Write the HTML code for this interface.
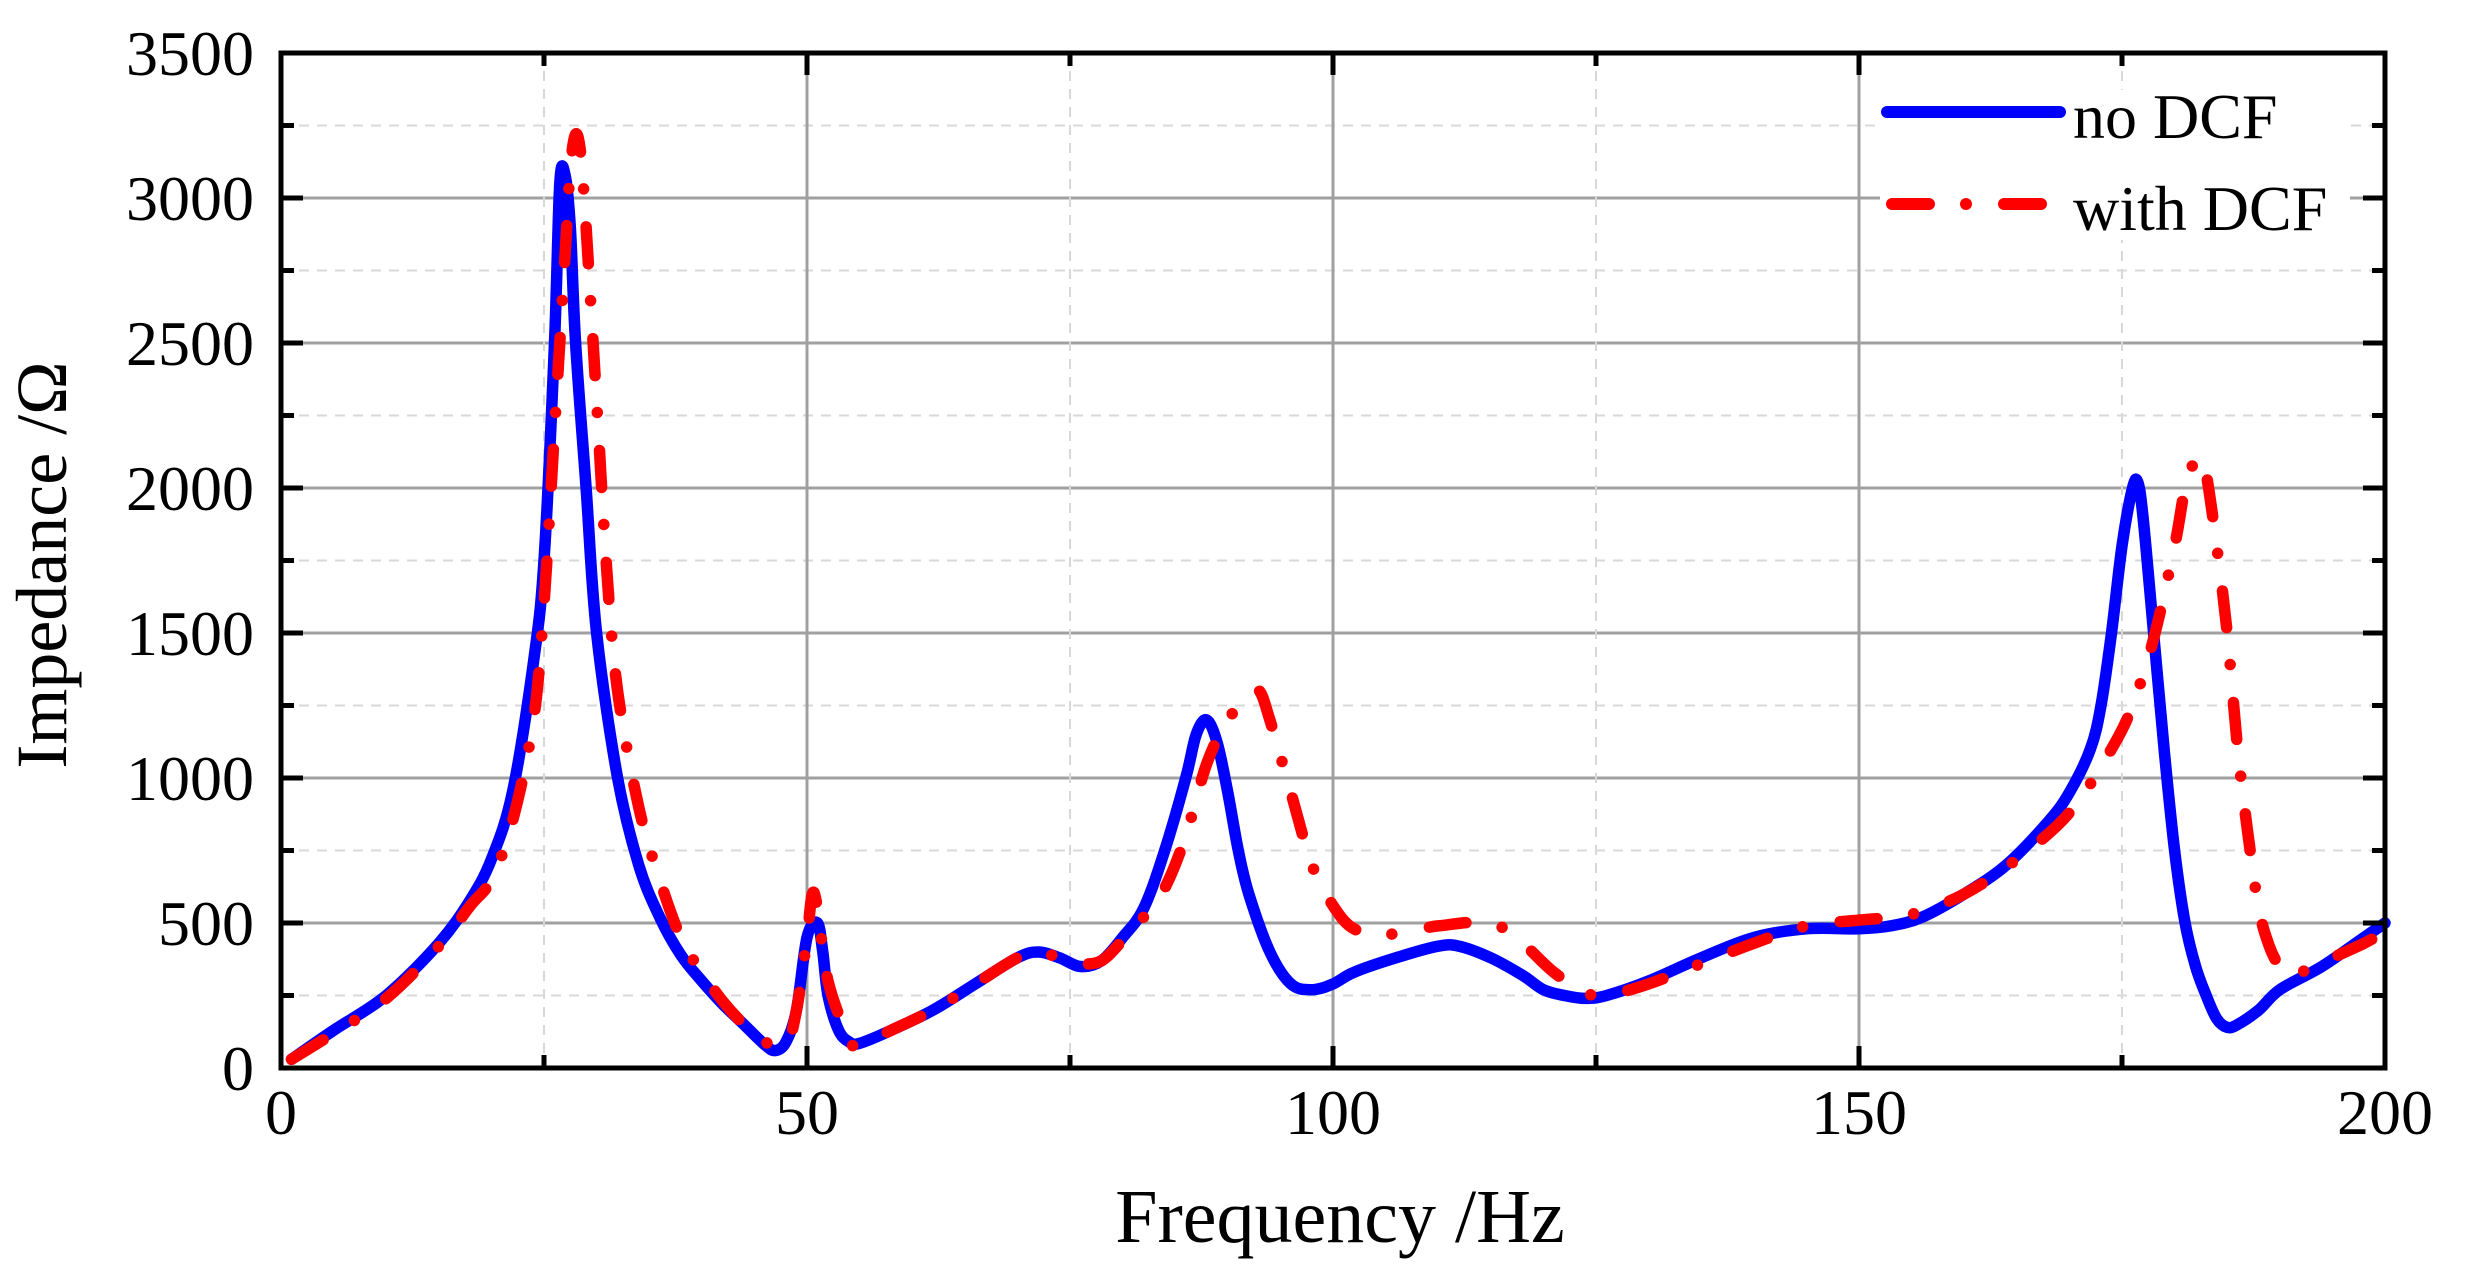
<!DOCTYPE html>
<html><head><meta charset="utf-8"><style>
html,body{margin:0;padding:0;background:#fff;}
svg{display:block;}
text{font-family:"Liberation Serif",serif;fill:#000;}
</style></head><body>
<svg id="s" width="2467" height="1282" viewBox="0 0 2467 1282" xmlns="http://www.w3.org/2000/svg">
<g id="grid"></g>
<path id="blue" fill="none" stroke="#0000ff" stroke-width="11.5" stroke-linejoin="round" stroke-linecap="round"/>
<path id="red" fill="none" stroke="#ff0000" stroke-width="11.5" stroke-linejoin="round" stroke-linecap="round" stroke-dasharray="37 37 0 38"/>
<rect x="281" y="53" width="2104" height="1015" fill="none" stroke="#000" stroke-width="5"/>
<g id="ticks"></g>
<g font-size="64" text-anchor="end" id="ylab"></g>
<g font-size="64" text-anchor="middle" id="xlab"></g>
<text x="1340" y="1242" font-size="76" text-anchor="middle">Frequency /Hz</text>
<text transform="translate(66,565) rotate(-90)" font-size="72" text-anchor="middle">Impedance /Ω</text>
<rect x="1880" y="90" width="470" height="150" fill="#fff"/>
<line x1="1887" y1="112" x2="2060" y2="112" stroke="#0000ff" stroke-width="12" stroke-linecap="round"/>
<line x1="1892" y1="204" x2="2043" y2="204" stroke="#ff0000" stroke-width="12" stroke-linecap="round" stroke-dasharray="37 37 0 38"/>
<text x="2073" y="138" font-size="64">no DCF</text>
<text x="2073" y="230" font-size="64">with DCF</text>
</svg>
<script>
var L=281,R=2385,T=53,B=1068;
function X(f){return L+(R-L)*f/200;}
function Y(v){return B-(B-T)*v/3500;}
var NS="http://www.w3.org/2000/svg";
function el(p,n,a){var e=document.createElementNS(NS,n);for(var k in a)e.setAttribute(k,a[k]);p.appendChild(e);return e;}
var g=document.getElementById('grid'),tk=document.getElementById('ticks');
for(var v=250;v<3500;v+=250){var maj=v%500==0;
 el(g,'line',{x1:L,x2:R,y1:Y(v),y2:Y(v),stroke:maj?'#a0a0a0':'#d8d8d8','stroke-width':maj?3:2,'stroke-dasharray':maj?'':'10 8'});
 el(tk,'line',{x1:L,x2:L+(maj?22:13),y1:Y(v),y2:Y(v),stroke:'#000','stroke-width':5});
 el(tk,'line',{x1:R,x2:R-(maj?22:13),y1:Y(v),y2:Y(v),stroke:'#000','stroke-width':5});}
for(var f=25;f<200;f+=25){var maj=f%50==0;
 el(g,'line',{x1:X(f),x2:X(f),y1:T,y2:B,stroke:maj?'#a0a0a0':'#d8d8d8','stroke-width':maj?3:2,'stroke-dasharray':maj?'':'10 8'});
 el(tk,'line',{x1:X(f),x2:X(f),y1:B,y2:B-(maj?22:13),stroke:'#000','stroke-width':5});
 el(tk,'line',{x1:X(f),x2:X(f),y1:T,y2:T+(maj?22:13),stroke:'#000','stroke-width':5});}
var yl=document.getElementById('ylab');
for(var v=0;v<=3500;v+=500){var t=el(yl,'text',{x:254,y:Y(v)+22});t.textContent=v;}
var xl=document.getElementById('xlab');
for(var f=0;f<=200;f+=50){var t=el(xl,'text',{x:X(f),y:1134});t.textContent=f;}
var blue=[[1,30],[5,130],[10,250],[15,430],[18,580],[20,720],[22,950],[24,1400],[25,1750],[26,2500],[26.5,3050],[27,3080],[27.5,2900],[28,2500],[29,2000],[30,1500],[32,1000],[34,700],[36,520],[38,390],[40,300],[42,220],[44,150],[46,80],[47,60],[48,90],[49,200],[50,450],[51,500],[51.5,400],[52,250],[53,130],[54,90],[55,85],[58,130],[62,200],[66,290],[70,380],[72,400],[74,380],[76,350],[78,370],[80,450],[82,550],[84,750],[86,1000],[87,1150],[88,1200],[89,1120],[90,950],[91,750],[92,600],[94,400],[96,290],[98,270],[100,290],[102,330],[106,380],[110,420],[112,420],[115,380],[118,320],[120,270],[122,250],[124,240],[126,250],[130,300],[135,380],[140,450],[145,480],[150,480],[153,490],[156,520],[160,600],[164,700],[168,850],[170,950],[172,1100],[173,1250],[174,1500],[175,1800],[176,2000],[176.5,2020],[177,1900],[178,1500],[179,1100],[180,750],[181,500],[182,350],[183,250],[184,170],[185,140],[186,150],[188,200],[190,270],[194,350],[198,450],[200,500]];
var red=[[1,30],[5,120],[10,240],[15,420],[18,560],[20,650],[22,850],[24,1200],[25,1600],[26,2200],[27,2800],[27.5,3100],[28,3220],[28.5,3150],[29,2900],[30,2300],[31,1700],[32,1300],[34,900],[36,650],[38,450],[40,330],[42,230],[44,150],[46,90],[48,80],[49,200],[50,450],[50.5,600],[51,550],[52,300],[54,100],[55,80],[58,130],[62,200],[66,290],[70,380],[72,400],[74,380],[76,360],[78,370],[80,440],[82,520],[84,620],[86,800],[88,1050],[90,1200],[92,1280],[93,1300],[94,1200],[96,950],[98,700],[100,560],[102,480],[105,460],[110,490],[115,500],[118,430],[121,330],[124,260],[126,250],[130,290],[135,360],[140,430],[145,490],[150,510],[155,530],[160,600],[165,720],[170,880],[174,1100],[176,1250],[178,1480],[180,1800],[181,2000],[182,2100],[182.5,2100],[183,2050],[184,1800],[185,1500],[186,1100],[187,800],[188,550],[189,420],[190,350],[191,320],[192,330],[195,380],[198,430],[200,470]];
function path(d){var p=d.map(function(a){return [X(a[0]),Y(a[1])];});var s='M'+p[0][0]+','+p[0][1];
 for(var i=0;i<p.length-1;i++){var p0=p[i-1]||p[i],p1=p[i],p2=p[i+1],p3=p[i+2]||p2;
  var c1=[p1[0]+(p2[0]-p0[0])/6,p1[1]+(p2[1]-p0[1])/6],c2=[p2[0]-(p3[0]-p1[0])/6,p2[1]-(p3[1]-p1[1])/6];
  s+='C'+c1[0].toFixed(1)+','+c1[1].toFixed(1)+' '+c2[0].toFixed(1)+','+c2[1].toFixed(1)+' '+p2[0].toFixed(1)+','+p2[1].toFixed(1);}
 return s;}
document.getElementById('blue').setAttribute('d',path(blue));
document.getElementById('red').setAttribute('d',path(red));
</script>
</body></html>
